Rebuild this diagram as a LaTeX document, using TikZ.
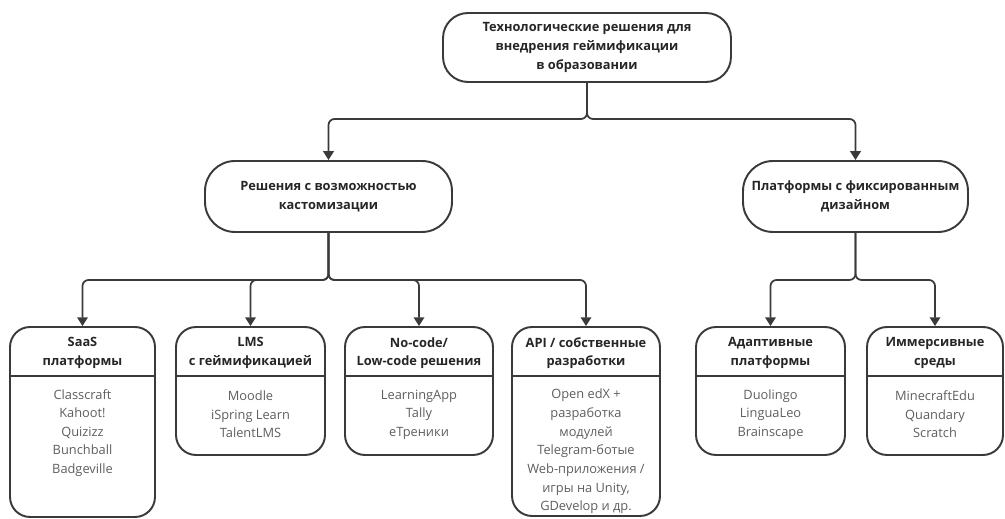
\documentclass[tikz,border=0pt]{standalone}
\usepackage{fontspec}
\setmainfont{Open Sans}
\usetikzlibrary{arrows.meta}

\definecolor{linecol}{HTML}{3A3A3A}
\definecolor{titlecol}{HTML}{262626}
\definecolor{itemcol}{HTML}{5E5E5E}

\tikzset{
  box/.style={draw=linecol, line width=1.1pt, rounded corners=0.5cm, inner sep=0pt,
    align=center, text=titlecol, font=\fontsize{7.3}{10.6}\selectfont\bfseries},
  leaf/.style={draw=linecol, line width=1.1pt, rounded corners=0.4cm, inner sep=0pt},
  head/.style={align=center, text=titlecol, inner sep=0pt,
    font=\fontsize{7.3}{10.6}\selectfont\bfseries},
  items/.style={align=center, text=itemcol, inner sep=0pt,
    font=\fontsize{7.3}{10.6}\selectfont},
  link/.style={draw=linecol, line width=1pt, rounded corners=0.12cm,
    -{Triangle[length=5pt,width=6pt]}},
  rule/.style={draw=linecol, line width=1.1pt}
}

\begin{document}
\begin{tikzpicture}[x=0.02cm, y=-0.02cm]
    \useasboundingbox (0,0) rectangle (1005,519);

    \node [box, minimum width=5.76cm, minimum height=1.38cm] (root) at (587,47.5)
      {Технологические решения для\\внедрения геймификации\\в образовании};

    \node [box, rounded corners=0.6cm, minimum width=4.94cm, minimum height=1.42cm] (custom) at (328.5,196.5)
      {Решения с возможностью\\кастомизации};
    \node [box, rounded corners=0.6cm, minimum width=4.5cm, minimum height=1.42cm] (fixed) at (855.5,196.5)
      {Платформы с фиксированным\\дизайном};

    \node [leaf, minimum width=2.9cm, minimum height=3.8cm] (saas) at (82.5,422) {};
    \node [leaf, minimum width=2.98cm, minimum height=2.56cm] (lms) at (250.5,391) {};
    \node [leaf, minimum width=2.96cm, minimum height=2.56cm] (nocode) at (419,391) {};
    \node [leaf, minimum width=2.96cm, minimum height=3.78cm] (api) at (586,421.5) {};
    \node [leaf, minimum width=2.98cm, minimum height=2.56cm] (adapt) at (770.5,391) {};
    \node [leaf, minimum width=2.72cm, minimum height=2.56cm] (immers) at (935,391) {};

    \coordinate (hl) at (0,376);
    \draw [rule] (saas.west |- hl) -- (saas.east |- hl);
    \draw [rule] (lms.west |- hl) -- (lms.east |- hl);
    \draw [rule] (nocode.west |- hl) -- (nocode.east |- hl);
    \draw [rule] (api.west |- hl) -- (api.east |- hl);
    \draw [rule] (adapt.west |- hl) -- (adapt.east |- hl);
    \draw [rule] (immers.west |- hl) -- (immers.east |- hl);

    \node [head] (saash) at (82.5,353) {SaaS\\платформы};
    \node [head] (lmsh) at (250.5,353) {LMS\\с геймификацией};
    \node [head] (nocodeh) at (419,353) {No-code/\\Low-code решения};
    \node [head] (apih) at (586,353) {API / собственные\\разработки};
    \node [head] (adapth) at (770.5,353) {Адаптивные\\платформы};
    \node [head] (immersh) at (935,353) {Иммерсивные\\среды};

    \node [items] (saasl) at (82.5,433)
      {Classcraft\\Kahoot!\\Quizizz\\Bunchball\\Badgeville};
    \node [items] (lmsl) at (250.5,414.5) {Moodle\\iSpring Learn\\TalentLMS};
    \node [items] (nocodel) at (419,414.5) {LearningApp\\Tally\\eТреники};
    \node [items] (apil) at (586,451.5)
      {Open edX +\\разработка\\модулей\\Telegram-ботые\\Web-приложения /\\игры на Unity,\\GDevelop и др.};
    \node [items] (adaptl) at (770.5,414.5) {Duolingo\\LinguaLeo\\Brainscape};
    \node [items] (immersl) at (935,414.5) {MinecraftEdu\\Quandary\\Scratch};

    \coordinate (j0) at (587,119);
    \coordinate (j1) at (328.5,280);
    \coordinate (j2) at (855.5,280);

    \draw [link] (root.south) -- (j0) -| (custom.north);
    \draw [link] (root.south) -- (j0) -| (fixed.north);

    \draw [link] (custom.south) -- (j1) -| (saas.north);
    \draw [link] (custom.south) -- (j1) -| (lms.north);
    \draw [link] (custom.south) -- (j1) -| (nocode.north);
    \draw [link] (custom.south) -- (j1) -| (api.north);

    \draw [link] (fixed.south) -- (j2) -| (adapt.north);
    \draw [link] (fixed.south) -- (j2) -| (immers.north);
\end{tikzpicture}
\end{document}
